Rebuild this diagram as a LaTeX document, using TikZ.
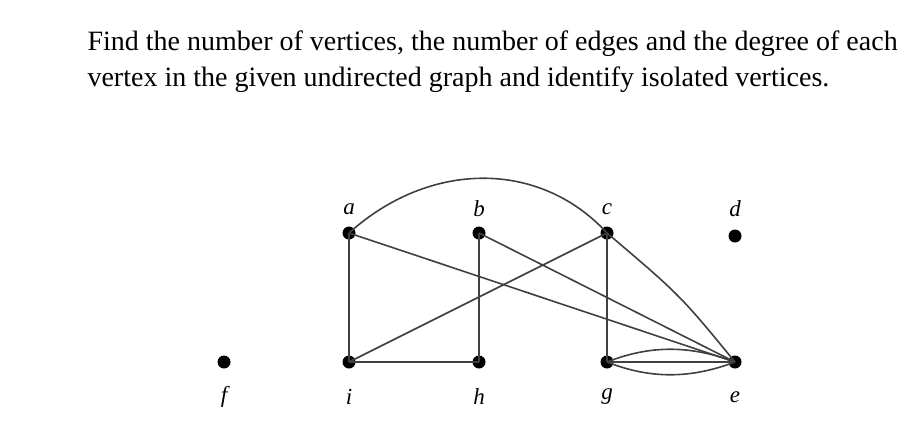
\documentclass[tikz,border=0pt]{standalone}
\usepackage{fontspec}
\setmainfont{Liberation Serif}
\begin{document}
\begin{tikzpicture}[x=1pt,y=-1pt,
  vtx/.style={circle,fill=black,inner sep=0pt,minimum size=13pt},
  lbl/.style={font=\fontsize{23}{26}\selectfont\itshape},
  edge/.style={draw=black!75,line width=1.6pt}]
\useasboundingbox (0,0) rectangle (915,432);
\node[anchor=west,font=\fontsize{28}{36}\selectfont,align=left] (txt) at (84,62)
 {Find the number of vertices, the number of edges and the degree of each\\vertex in the given undirected graph and identify isolated vertices.};
\node[vtx] (a) at (349,233) {};
\node[vtx] (b) at (479,233) {};
\node[vtx] (c) at (607,233) {};
\node[vtx] (d) at (735,236) {};
\node[vtx] (f) at (224,362) {};
\node[vtx] (i) at (349,362) {};
\node[vtx] (h) at (479,362) {};
\node[vtx] (g) at (607,362) {};
\node[vtx] (e) at (735,362) {};
\node[lbl] (la) at (349,209) {a};
\node[lbl] (lb) at (479,209) {b};
\node[lbl] (lc) at (607,209) {c};
\node[lbl] (ld) at (735,209) {d};
\node[lbl] (lf) at (224,397) {f};
\node[lbl] (li) at (349,397) {i};
\node[lbl] (lh) at (479,397) {h};
\node[lbl] (lg) at (607,397) {g};
\node[lbl] (le) at (735,397) {e};
\draw[edge] (a.center) -- (i.center);
\draw[edge] (a.center) .. controls (430,160) and (540,160) .. (c.center);
\draw[edge] (a.center) -- (e.center);
\draw[edge] (b.center) -- (h.center);
\draw[edge] (b.center) -- (e.center);
\draw[edge] (c.center) -- (i.center);
\draw[edge] (c.center) -- (g.center);
\draw[edge] (c.center) .. controls (680,295) .. (e.center);
\draw[edge] (i.center) -- (h.center);
\draw[edge] (g.center) -- (e.center);
\draw[edge] (g.center) .. controls (650,345) and (690,345) .. (e.center);
\draw[edge] (g.center) .. controls (650,379) and (690,379) .. (e.center);
\end{tikzpicture}
\end{document}
